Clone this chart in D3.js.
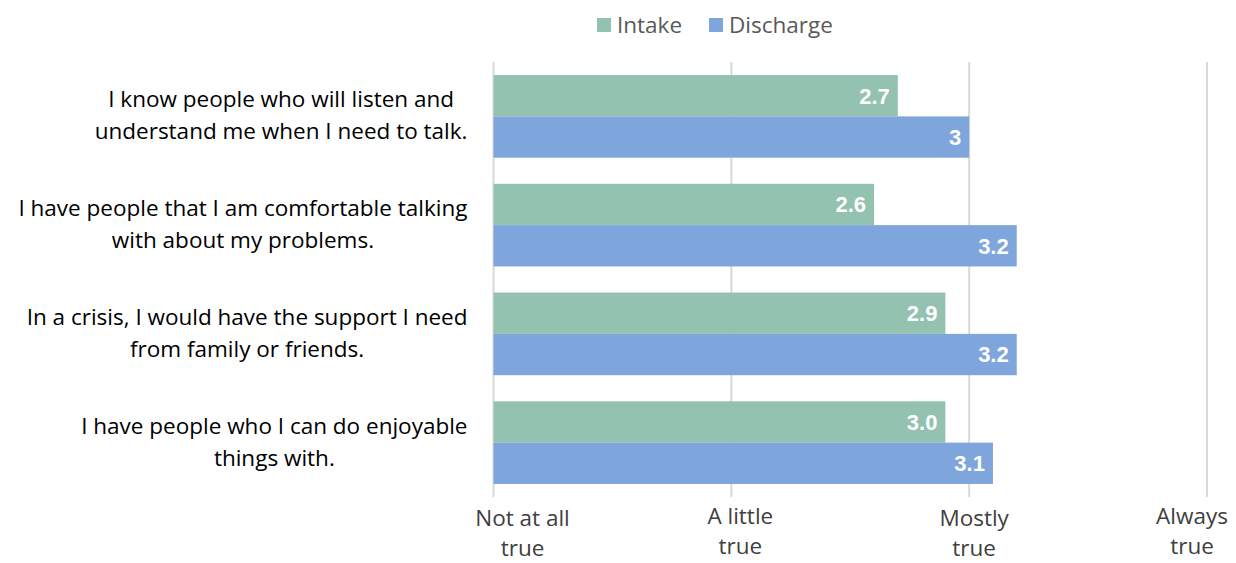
<!DOCTYPE html>
<html>
<head>
<meta charset="utf-8">
<script src="https://cdn.jsdelivr.net/npm/d3@7"></script>
<style>
  body { margin: 0; background: #fff; }
  svg { display: block; }
</style>
</head>
<body>
<div id="chart"></div>
<script>
// data
const questions = [
    ["I know people who will listen and", "understand me when I need to talk."],
    ["I have people that I am comfortable talking", "with about my problems."],
    ["In a crisis, I would have the support I need", "from family or friends."],
    ["I have people who I can do enjoyable", "things with."]
];
const intake = [2.7, 2.6, 2.9, 2.9];
const discharge = [3.0, 3.2, 3.2, 3.1];
const intakeLabels = ["2.7", "2.6", "2.9", "3.0"];
const dischargeLabels = ["3", "3.2", "3.2", "3.1"];
const seriesNames = ["Intake", "Discharge"];
const tickValues = [1, 2, 3, 4];
const tickLabels = [["Not at all", "true"], ["A little", "true"], ["Mostly", "true"], ["Always", "true"]];

let margin = {top: 62, right: 29, bottom: 66, left: 493.5},
    width = 1236 - margin.left - margin.right,
    height = 563 - margin.top - margin.bottom;

const svg = d3.select("#chart")
    .append("svg")
    .attr("width", 1236)
    .attr("height", 563);

const g = svg.append("g")
    .attr("transform", "translate(" + margin.left + "," + margin.top + ")");

var color = d3.scaleOrdinal()
    .domain(seriesNames)
    .range(["#93c2b0", "#7ea5dc"]);

var x = d3.scaleLinear()
    .domain([1, 4])
    .range([0, width]);

var y = d3.scaleBand()
    .domain(d3.range(questions.length))
    .range([0, height])
    .paddingInner(0.24)
    .paddingOuter(0.12);

var ySub = d3.scaleBand()
    .domain(seriesNames)
    .range([0, y.bandwidth()]);

// gridlines
g.append("g")
    .selectAll("line")
    .data(tickValues)
    .enter().append("line")
    .attr("x1", d => x(d))
    .attr("x2", d => x(d))
    .attr("y1", 0)
    .attr("y2", height)
    .attr("stroke", "#d9d9d9")
    .attr("stroke-width", 2);

// tick labels (two lines each) - Excel nudges them a bit off the gridlines
const tickShift = [29, 9, 5, -15];
const tickDrop = [0, -2, 0, -2];
const ticks = g.append("g")
    .selectAll("text")
    .data(tickValues)
    .enter().append("text")
    .attr("y", (d, i) => height + 29 + tickDrop[i])
    .attr("text-anchor", "middle")
    .style("font", "22.5px 'Open Sans'")
    .attr("fill", "#404040");
ticks.each(function (d, i) {
    tickLabels[i].forEach((t, j) => {
        d3.select(this).append("tspan")
            .attr("x", x(d) + tickShift[i])
            .attr("dy", j === 0 ? 0 : 30)
            .text(t);
    });
});

// bars
const rows = questions.map((q, i) => ({
    i: i,
    bars: [
        {key: "Intake", value: intake[i], label: intakeLabels[i]},
        {key: "Discharge", value: discharge[i], label: dischargeLabels[i]}
    ]
}));

const groups = g.append("g")
    .selectAll("g")
    .data(rows)
    .enter().append("g")
    .attr("transform", d => "translate(0," + y(d.i) + ")");

groups.selectAll("rect")
    .data(d => d.bars)
    .enter().append("rect")
    .attr("x", x(1))
    .attr("y", d => ySub(d.key))
    .attr("width", d => x(d.value) - x(1))
    .attr("height", ySub.bandwidth())
    .attr("fill", d => color(d.key));

groups.selectAll("text.val")
    .data(d => d.bars)
    .enter().append("text")
    .attr("class", "val")
    .attr("x", d => x(d.value) - 8)
    .attr("y", d => ySub(d.key) + ySub.bandwidth() / 2)
    .attr("dy", "0.36em")
    .attr("text-anchor", "end")
    .style("font", "bold 22px 'Liberation Sans', Arial, sans-serif")
    .attr("fill", "#fff")
    .text(d => d.label);

// category labels, two centered lines, block right-aligned
questions.forEach((lines, i) => {
    const t = g.append("text")
        .attr("text-anchor", "middle")
        .style("font", "22.5px 'Open Sans'")
        .attr("fill", "#000");
    const spans = lines.map((line, j) =>
        t.append("tspan")
            .attr("dy", j === 0 ? 0 : 32)
            .text(line));
    let maxW = d3.max(spans, s => s.node().getComputedTextLength());
    const cx = -26 - maxW / 2;
    spans.forEach(s => s.attr("x", cx));
    t.attr("y", y(i) + y.bandwidth() / 2 - 9);
});

// legend
const legend = svg.append("g")
    .selectAll("g")
    .data(seriesNames)
    .enter().append("g")
    .attr("transform", (d, i) => "translate(" + [597, 709][i] + ",18)");

legend.append("rect")
    .attr("width", 14)
    .attr("height", 14)
    .attr("fill", color);

legend.append("text")
    .attr("x", 20)
    .attr("y", 7)
    .attr("dy", "0.35em")
    .style("font", "22.5px 'Open Sans'")
    .attr("fill", "#595959")
    .text(d => d);
</script>
</body>
</html>
